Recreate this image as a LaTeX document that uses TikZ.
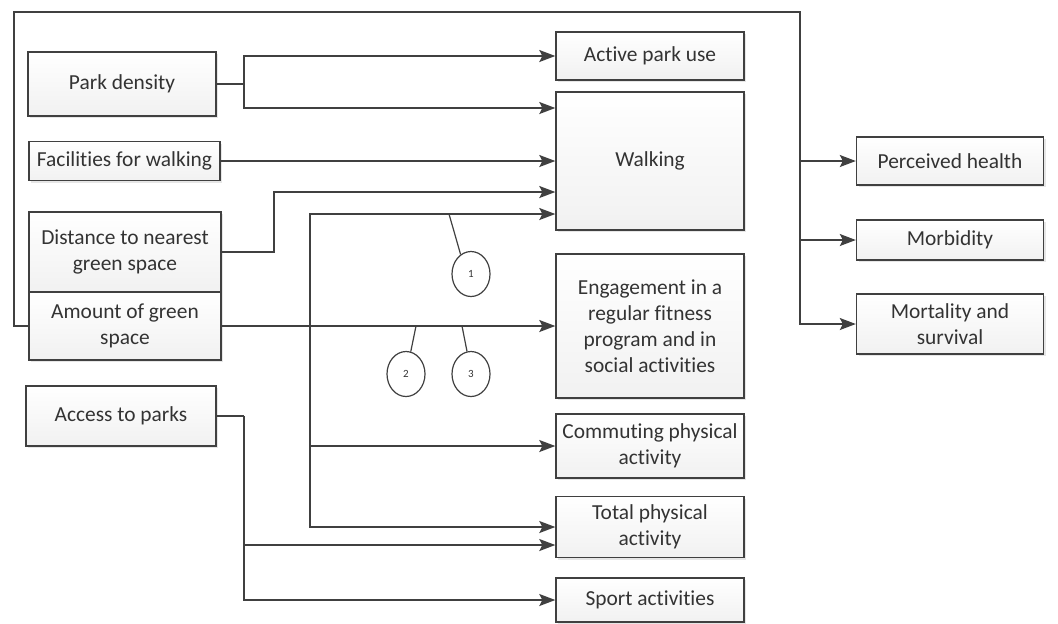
\documentclass[tikz,border=0pt]{standalone}
\usepackage{fontspec}
\setmainfont[Ligatures=NoCommon]{Carlito}
\usetikzlibrary{arrows.meta,shapes.geometric,shadows}
\definecolor{linegray}{HTML}{404040}
\definecolor{textgray}{HTML}{333333}

\begin{document}
\begin{tikzpicture}[x=0.5pt,y=-0.5pt,
	box/.style={draw=linegray, line width=0.7pt, top color=white, bottom color=gray!11, drop shadow={shadow xshift=1.2pt, shadow yshift=-1.2pt, opacity=0.2}, inner sep=1pt, align=center, text=textgray, font=\fontsize{10.7pt}{13pt}\selectfont},
	link/.style={draw=linegray, line width=0.75pt},
	arr/.style={link, -{Stealth[length=8pt, width=6pt, inset=1.5pt]}},
	tag/.style={ellipse, draw=linegray, line width=0.6pt, minimum width=19pt, minimum height=22.5pt, inner sep=0pt, text=textgray, font=\fontsize{5.5pt}{6pt}\selectfont}]
	\useasboundingbox (0,0) rectangle (1058,623);

	\node[box, minimum width=94pt, minimum height=32pt] (park) at (122,84) {Park density};
	\node[box, minimum width=95.5pt, minimum height=19.5pt] (facil) at (124.5,161) {Facilities for walking};
	\node[box, minimum width=96pt, minimum height=40pt] (dist) at (125,252) {Distance to nearest\\green space};
	\node[box, minimum width=96pt, minimum height=34pt] (amount) at (125,326) {Amount of green\\space};
	\node[box, minimum width=95pt, minimum height=30pt] (access) at (121,416) {Access to parks};

	\node[box, minimum width=94pt, minimum height=24pt] (active) at (650,56) {Active park use};
	\node[box, minimum width=94pt, minimum height=69pt] (walk) at (650,161) {Walking};
	\node[box, minimum width=94pt, minimum height=72pt] (engage) at (650,326) {Engagement in a\\regular fitness\\program and in\\social activities};
	\node[box, minimum width=94pt, minimum height=32pt] (commute) at (650,446) {Commuting physical\\activity};
	\node[box, minimum width=94pt, minimum height=30.5pt] (total) at (650,527) {Total physical\\activity};
	\node[box, minimum width=94pt, minimum height=22pt] (sport) at (650,600) {Sport activities};

	\node[box, minimum width=93.5pt, minimum height=24pt] (health) at (950,161) {Perceived health};
	\node[box, minimum width=93.5pt, minimum height=20pt] (morb) at (950,240) {Morbidity};
	\node[box, minimum width=93.5pt, minimum height=30pt] (mort) at (950,324) {Mortality and\\survival};

	\coordinate (pj) at (244,84);
	\draw[link] (park.east) -- (pj);
	\draw[arr] (pj) |- (active.west);
	\draw[arr] (pj) |- (walk.west |- 0,108);
	\draw[arr] (facil.east) -- (walk.west);
	\draw[arr] (dist.east) -| (274,192) -- (walk.west |- 0,192);

	\coordinate (aj) at (310,326);
	\draw[link] (amount.east) -- (aj);
	\draw[arr] (aj) |- (walk.west |- 0,214);
	\draw[arr] (aj) -- (engage.west);
	\draw[arr] (aj) |- (commute.west);
	\draw[arr] (aj) |- (total.west);

	\coordinate (sj) at (244,416);
	\draw[link] (access.east) -- (sj);
	\draw[arr] (sj) |- (total.west |- 0,545);
	\draw[arr] (sj) |- (sport.west);

	\coordinate (hj) at (800,12);
	\draw[arr] (amount.west) -| (14,12) -- (hj) |- (mort.west);
	\draw[arr] (hj |- health.west) -- (health.west);
	\draw[arr] (hj |- morb.west) -- (morb.west);

	\node[tag] (t1) at (471,274) {1};
	\node[tag] (t2) at (406,374) {2};
	\node[tag] (t3) at (471,374) {3};
	\coordinate (c1) at (449,214);
	\coordinate (c2) at (416,326);
	\coordinate (c3) at (462,326);
	\draw[link, line width=0.6pt] (t1.118) -- (c1);
	\draw[link, line width=0.6pt] (t2.78) -- (c2);
	\draw[link, line width=0.6pt] (t3.100) -- (c3);
\end{tikzpicture}
\end{document}
